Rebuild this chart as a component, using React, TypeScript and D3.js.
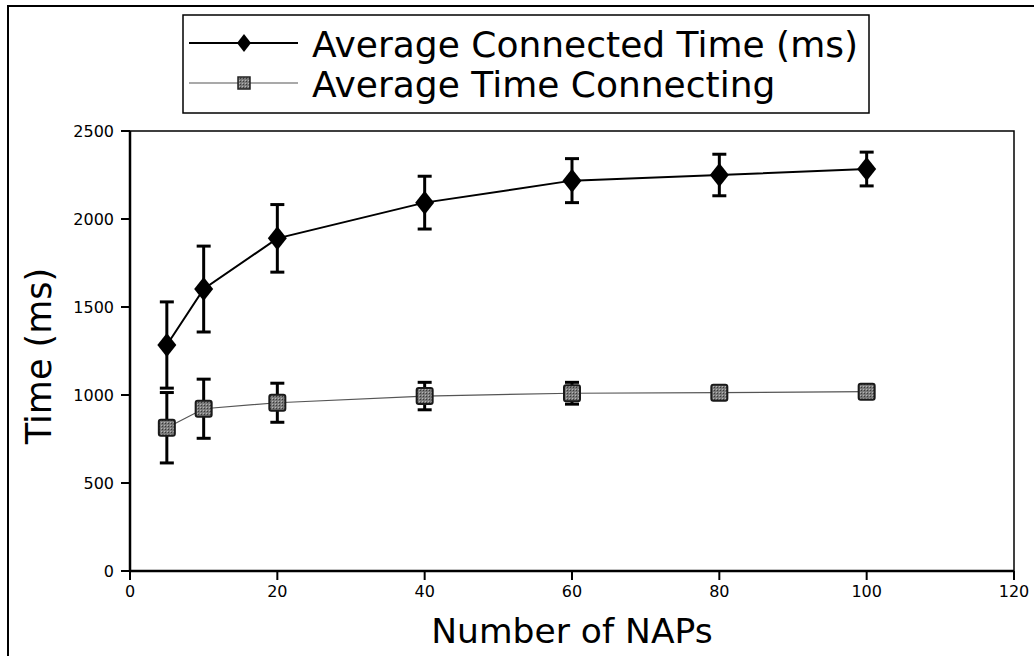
import React from "react";
import * as d3 from "d3";

const naps = [5, 10, 20, 40, 60, 80, 100];
const connectedTime = [1284, 1602, 1890, 2093, 2218, 2250, 2284];
const connectedErr = [245, 244, 192, 150, 125, 118, 96];
const connectingTime = [814, 922, 956, 994, 1010, 1013, 1019];
const connectingErr = [200, 168, 111, 78, 62, 30, 25];
const xTicks = [0, 20, 40, 60, 80, 100, 120];
const yTicks = [0, 500, 1000, 1500, 2000, 2500];
const legendLabels = ["Average Connected Time (ms)", "Average Time Connecting"];

const W = 1034;
const H = 656;
const FONT = "DejaVu Sans, sans-serif";

export default function App() {
  const x = d3.scaleLinear().domain([0, 120]).range([130, 1014]);
  const y = d3.scaleLinear().domain([0, 2500]).range([571, 131]);
  const line = d3
    .line<[number, number]>()
    .x((d) => x(d[0]))
    .y((d) => y(d[1]));

  const s1 = naps.map((n, i) => [n, connectedTime[i]] as [number, number]);
  const s2 = naps.map((n, i) => [n, connectingTime[i]] as [number, number]);

  const diamond = (cx: number, cy: number, hw = 9.5, hh = 12) =>
    `M${cx},${cy - hh}L${cx + hw},${cy}L${cx},${cy + hh}L${cx - hw},${cy}Z`;

  const errBar = (cx: number, v: number, e: number, key: string) => (
    <g key={key} stroke="#000" strokeWidth={3}>
      <line x1={cx} x2={cx} y1={y(v - e)} y2={y(v + e)} />
      <line x1={cx - 7} x2={cx + 7} y1={y(v + e)} y2={y(v + e)} />
      <line x1={cx - 7} x2={cx + 7} y1={y(v - e)} y2={y(v - e)} />
    </g>
  );

  return (
    <svg
      width={W}
      height={H}
      style={{ position: "absolute", left: 0, top: 0, background: "#fff" }}
      fontFamily={FONT}
    >
      <defs>
        <pattern id="dither" width="3" height="3" patternUnits="userSpaceOnUse">
          <rect width="3" height="3" fill="#7a7a7a" />
          <rect width="1" height="1" fill="#3a3a3a" />
          <rect x="2" y="2" width="1" height="1" fill="#b5b5b5" />
        </pattern>
      </defs>
      {/* outer frame */}
      <rect x={8} y={6} width={1040} height={660} fill="none" stroke="#000" strokeWidth={2} />

      {/* legend */}
      <rect x={183} y={15} width={686} height={98} fill="#fff" stroke="#000" strokeWidth={1.5} />
      <line x1={189} x2={298} y1={43} y2={43} stroke="#000" strokeWidth={1.8} />
      <path d={diamond(244, 43, 7, 9)} fill="#000" />
      <text x={312} y={57} fontSize={36} fill="#000">{legendLabels[0]}</text>
      <line x1={189} x2={298} y1={83} y2={83} stroke="#555" strokeWidth={1.2} />
      <rect x={238} y={77} width={12} height={12} fill="url(#dither)" stroke="#222" strokeWidth={1.5} />
      <text x={312} y={97} fontSize={36} fill="#000">{legendLabels[1]}</text>

      {/* plot frame */}
      <rect x={130} y={131} width={884} height={440} fill="none" stroke="#000" strokeWidth={1.5} />
      <line x1={130} x2={1014} y1={571} y2={571} stroke="#000" strokeWidth={2.5} />
      <line x1={130} x2={130} y1={131} y2={571} stroke="#000" strokeWidth={2.5} />

      {/* x ticks */}
      {xTicks.map((t) => (
        <g key={"xt" + t}>
          <line x1={x(t)} x2={x(t)} y1={571} y2={580} stroke="#000" strokeWidth={2} />
          <text x={x(t)} y={597} fontSize={16} textAnchor="middle" fill="#000">
            {t}
          </text>
        </g>
      ))}
      {/* y ticks */}
      {yTicks.map((t) => (
        <g key={"yt" + t}>
          <line x1={121} x2={130} y1={y(t)} y2={y(t)} stroke="#000" strokeWidth={2} />
          <text x={114} y={y(t)} dy="0.35em" fontSize={16} textAnchor="end" fill="#000">
            {t}
          </text>
        </g>
      ))}

      {/* axis labels */}
      <text x={572} y={643} fontSize={34.5} textAnchor="middle" fill="#000">
        Number of NAPs
      </text>
      <text
        transform={`translate(51,356) rotate(-90)`}
        fontSize={35}
        textAnchor="middle"
        fill="#000"
      >
        Time (ms)
      </text>

      {/* series 2: connecting */}
      <path d={line(s2) || ""} fill="none" stroke="#555" strokeWidth={1.2} />
      {naps.map((n, i) => errBar(x(n), connectingTime[i], connectingErr[i], "e2" + i))}
      {naps.map((n, i) => (
        <rect
          key={"sq" + i}
          x={x(n) - 8}
          y={y(connectingTime[i]) - 8}
          width={16}
          height={16}
          rx={2}
          fill="url(#dither)"
          stroke="#1a1a1a"
          strokeWidth={2}
        />
      ))}

      {/* series 1: connected */}
      <path d={line(s1) || ""} fill="none" stroke="#000" strokeWidth={2} />
      {naps.map((n, i) => errBar(x(n), connectedTime[i], connectedErr[i], "e1" + i))}
      {naps.map((n, i) => (
        <path key={"dm" + i} d={diamond(x(n), y(connectedTime[i]))} fill="#000" />
      ))}
    </svg>
  );
}
